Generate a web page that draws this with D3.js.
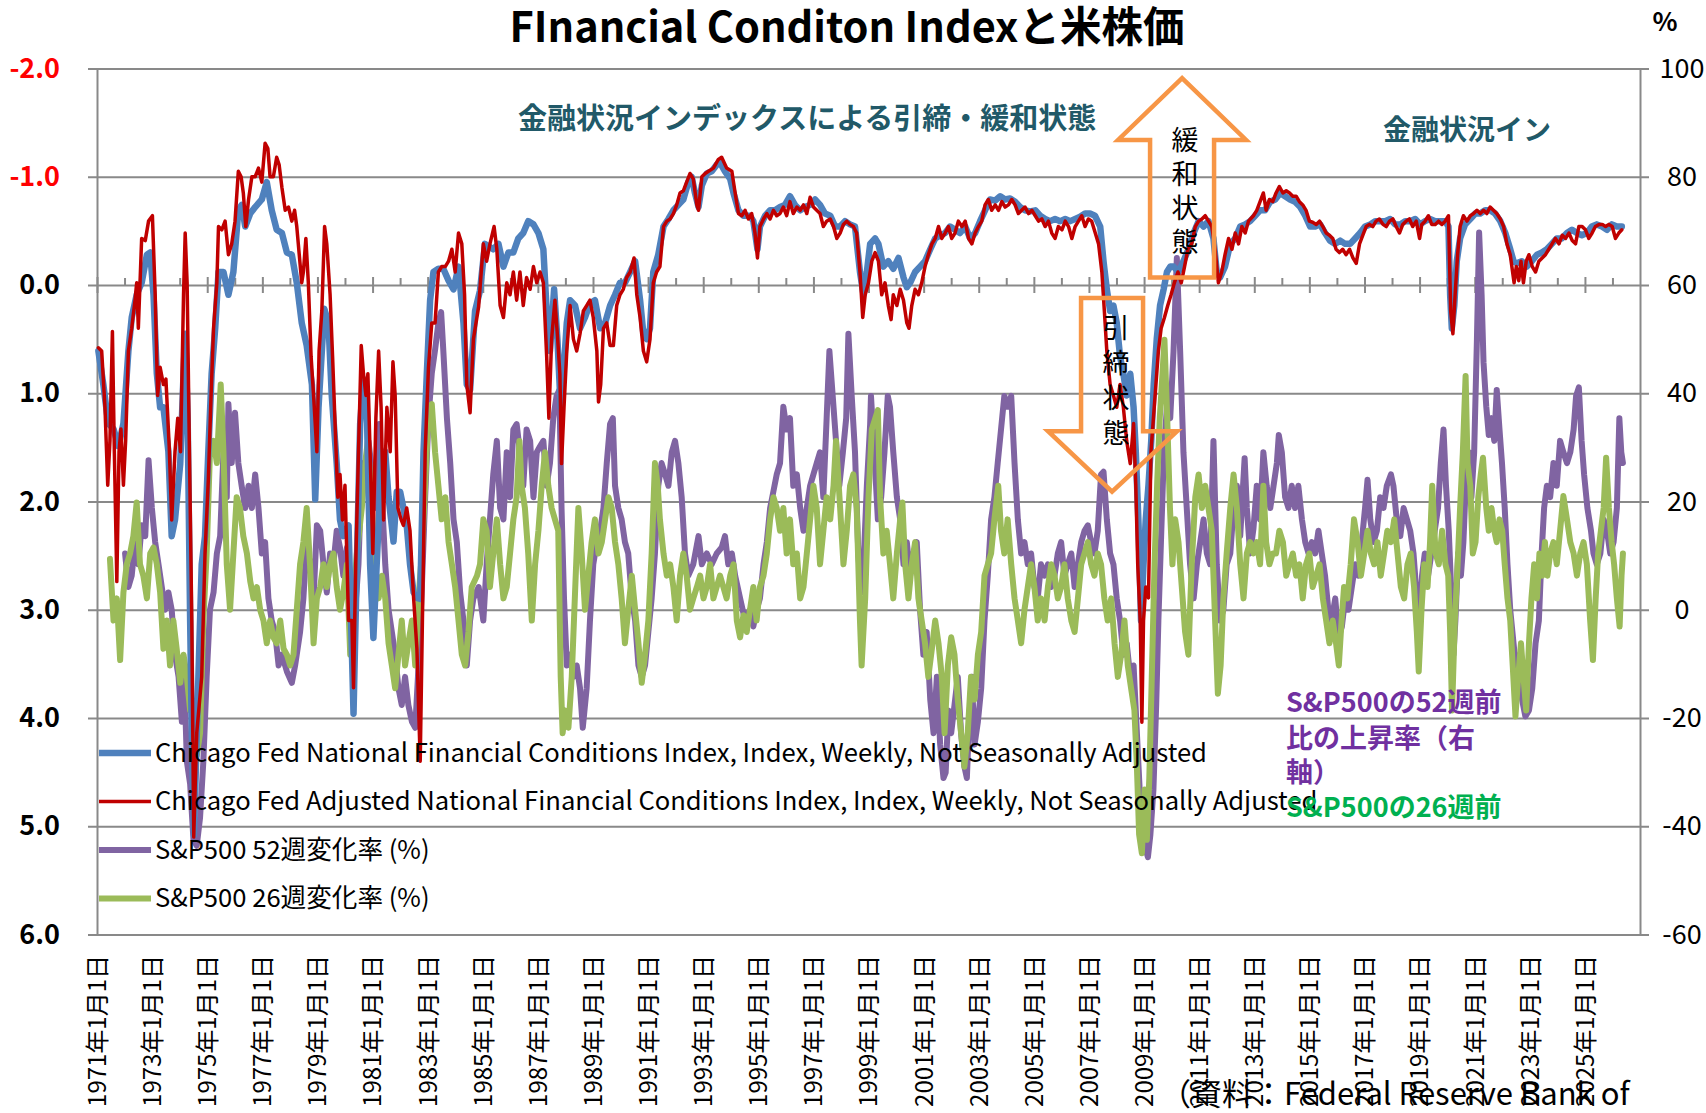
<!DOCTYPE html>
<html>
<head>
<meta charset="utf-8">
<script src="https://cdn.jsdelivr.net/npm/d3@7"></script>
<style>
  html, body { margin: 0; padding: 0; background: #fff; }
  svg { display: block; font-family: "Noto Sans CJK JP", "Noto Sans", sans-serif; }
</style>
</head>
<body>
<svg id="chart" width="1706" height="1113"></svg>
<script>
'use strict';

// ---- data (decimal year, value) ----
var nfci = [
  [1971.05,0.61],[1971.23,0.92],[1971.41,1.28],[1971.60,1.33],[1971.78,1.49],[1971.96,1.28],[1972.14,0.61],[1972.26,0.30],
  [1972.44,0.09],[1972.62,-0.02],[1972.81,-0.28],[1972.93,-0.30],[1973.05,0.09],[1973.17,0.82],[1973.29,1.13],[1973.41,1.13],
  [1973.59,1.54],[1973.71,2.32],[1973.83,2.17],[1974.02,1.65],[1974.14,0.82],[1974.20,0.45],[1974.29,1.23],[1974.38,3.10],
  [1974.44,4.14],[1974.52,5.08],[1974.68,3.62],[1974.80,2.58],[1974.92,2.32],[1975.04,1.54],[1975.16,0.82],[1975.29,0.40],
  [1975.41,-0.12],[1975.59,-0.12],[1975.77,0.09],[1975.95,-0.12],[1976.13,-0.69],[1976.25,-0.74],[1976.38,-0.54],[1976.56,-0.66],
  [1976.74,-0.72],[1976.98,-0.79],[1977.16,-0.95],[1977.34,-0.69],[1977.52,-0.51],[1977.71,-0.48],[1977.89,-0.30],[1978.07,-0.28],
  [1978.25,-0.02],[1978.43,0.35],[1978.61,0.56],[1978.80,0.92],[1978.92,1.98],[1979.04,1.13],[1979.25,0.22],[1979.40,0.35],
  [1979.52,1.02],[1979.70,1.65],[1979.82,2.17],[1979.94,2.32],[1980.13,2.22],[1980.31,3.96],[1980.43,2.58],[1980.55,1.28],
  [1980.67,0.87],[1980.79,1.13],[1980.91,2.58],[1981.03,3.26],[1981.15,2.58],[1981.34,1.54],[1981.46,1.54],[1981.58,1.96],
  [1981.76,2.37],[1981.88,1.91],[1982.00,1.91],[1982.12,2.06],[1982.24,2.22],[1982.36,2.58],[1982.49,2.84],[1982.61,2.89],
  [1982.73,2.90],[1982.85,1.54],[1982.97,0.82],[1983.09,0.14],[1983.21,-0.12],[1983.39,-0.15],[1983.57,-0.15],[1983.76,-0.04],
  [1983.94,0.04],[1984.12,-0.17],[1984.30,0.35],[1984.42,0.92],[1984.54,0.97],[1984.72,0.24],[1984.90,0.05],[1985.08,-0.38],
  [1985.38,-0.33],[1985.57,-0.38],[1985.75,-0.17],[1985.93,-0.30],[1986.11,-0.30],[1986.29,-0.43],[1986.47,-0.48],[1986.65,-0.59],
  [1986.84,-0.56],[1987.02,-0.48],[1987.20,-0.33],[1987.32,0.24],[1987.44,0.61],[1987.59,0.04],[1987.71,0.50],[1987.83,1.13],
  [1987.93,0.82],[1988.05,0.35],[1988.17,0.14],[1988.35,0.19],[1988.53,0.40],[1988.71,0.30],[1988.89,0.17],[1989.07,0.14],
  [1989.26,0.40],[1989.44,0.35],[1989.62,0.19],[1989.80,0.09],[1989.98,-0.02],[1990.16,-0.02],[1990.35,-0.12],[1990.53,-0.22],
  [1990.71,0.14],[1990.83,0.45],[1990.95,0.50],[1991.07,0.40],[1991.19,-0.12],[1991.37,-0.28],[1991.56,-0.54],[1991.74,-0.61],
  [1991.92,-0.69],[1992.10,-0.74],[1992.28,-0.79],[1992.46,-0.95],[1992.58,-1.00],[1992.70,-0.85],[1992.83,-0.72],[1992.95,-0.92],
  [1993.13,-1.03],[1993.31,-1.05],[1993.49,-1.11],[1993.61,-1.13],[1993.79,-1.05],[1993.98,-0.98],[1994.10,-0.85],[1994.28,-0.69],
  [1994.46,-0.64],[1994.70,-0.64],[1994.82,-0.59],[1994.97,-0.33],[1995.06,-0.54],[1995.25,-0.64],[1995.43,-0.69],[1995.61,-0.69],
  [1995.79,-0.72],[1995.97,-0.74],[1996.15,-0.82],[1996.33,-0.74],[1996.52,-0.69],[1996.70,-0.72],[1996.88,-0.74],[1997.06,-0.79],
  [1997.24,-0.74],[1997.42,-0.66],[1997.61,-0.64],[1997.79,-0.54],[1997.97,-0.54],[1998.15,-0.59],[1998.33,-0.56],[1998.51,-0.54],
  [1998.69,-0.12],[1998.82,0.09],[1998.94,-0.12],[1999.06,-0.38],[1999.24,-0.43],[1999.36,-0.38],[1999.54,-0.17],[1999.72,-0.22],
  [1999.90,-0.15],[2000.09,-0.25],[2000.27,-0.07],[2000.39,0.02],[2000.51,-0.02],[2000.69,-0.12],[2000.87,-0.17],[2001.05,-0.22],
  [2001.24,-0.33],[2001.42,-0.43],[2001.60,-0.46],[2001.78,-0.48],[2001.96,-0.54],[2002.14,-0.51],[2002.32,-0.48],[2002.51,-0.54],
  [2002.69,-0.43],[2002.87,-0.48],[2003.05,-0.59],[2003.23,-0.69],[2003.41,-0.79],[2003.60,-0.78],[2003.78,-0.82],[2003.96,-0.79],
  [2004.14,-0.80],[2004.32,-0.77],[2004.50,-0.72],[2004.68,-0.69],[2004.87,-0.68],[2005.05,-0.69],[2005.23,-0.64],[2005.41,-0.61],
  [2005.59,-0.59],[2005.77,-0.61],[2005.96,-0.59],[2006.14,-0.61],[2006.32,-0.59],[2006.50,-0.61],[2006.68,-0.63],[2006.86,-0.66],
  [2007.04,-0.66],[2007.22,-0.64],[2007.41,-0.54],[2007.53,-0.22],[2007.65,0.04],[2007.77,0.24],[2007.89,0.19],[2008.01,0.35],
  [2008.13,0.66],[2008.25,0.82],[2008.37,1.02],[2008.50,0.82],[2008.62,1.13],[2008.70,1.54],[2008.80,2.22],[2008.89,3.10],
  [2008.98,2.58],[2009.06,2.17],[2009.16,1.85],[2009.26,1.44],[2009.35,0.92],[2009.46,0.50],[2009.58,0.19],[2009.71,0.04],
  [2009.83,-0.12],[2009.95,-0.17],[2010.07,-0.17],[2010.25,-0.12],[2010.43,-0.22],[2010.61,-0.33],[2010.80,-0.48],[2010.98,-0.59],
  [2011.16,-0.54],[2011.34,-0.59],[2011.52,-0.43],[2011.64,-0.12],[2011.76,-0.07],[2011.94,-0.17],[2012.13,-0.38],[2012.31,-0.43],
  [2012.49,-0.54],[2012.67,-0.56],[2012.85,-0.59],[2013.03,-0.64],[2013.21,-0.69],[2013.39,-0.69],[2013.58,-0.77],[2013.76,-0.79],
  [2013.94,-0.85],[2014.12,-0.82],[2014.30,-0.79],[2014.48,-0.77],[2014.67,-0.72],[2014.85,-0.64],[2015.03,-0.54],[2015.21,-0.54],
  [2015.39,-0.56],[2015.57,-0.48],[2015.75,-0.41],[2015.94,-0.38],[2016.12,-0.41],[2016.30,-0.38],[2016.48,-0.38],[2016.66,-0.43],
  [2016.84,-0.48],[2017.02,-0.54],[2017.21,-0.56],[2017.39,-0.59],[2017.57,-0.59],[2017.75,-0.59],[2017.93,-0.61],[2018.11,-0.56],
  [2018.30,-0.56],[2018.48,-0.59],[2018.66,-0.59],[2018.84,-0.61],[2019.02,-0.56],[2019.20,-0.59],[2019.38,-0.61],[2019.57,-0.59],
  [2019.75,-0.59],[2019.93,-0.59],[2020.05,-0.54],[2020.11,0.09],[2020.17,0.40],[2020.26,0.19],[2020.35,-0.22],[2020.47,-0.43],
  [2020.65,-0.56],[2020.84,-0.61],[2021.02,-0.66],[2021.20,-0.66],[2021.38,-0.69],[2021.56,-0.69],[2021.74,-0.66],[2021.93,-0.59],
  [2022.11,-0.48],[2022.29,-0.33],[2022.41,-0.22],[2022.53,-0.20],[2022.71,-0.22],[2022.89,-0.17],[2023.07,-0.22],[2023.26,-0.28],
  [2023.44,-0.30],[2023.62,-0.33],[2023.80,-0.38],[2023.98,-0.43],[2024.16,-0.43],[2024.35,-0.48],[2024.53,-0.51],[2024.71,-0.48],
  [2024.89,-0.46],[2025.07,-0.48],[2025.25,-0.54],[2025.43,-0.56],[2025.62,-0.54],[2025.80,-0.51],[2025.98,-0.56],[2026.16,-0.54],
  [2026.34,-0.54]
];

var anfci = [
  [1971.05,0.58],[1971.17,0.61],[1971.29,1.13],[1971.39,1.85],[1971.47,1.44],[1971.56,0.43],[1971.63,1.54],[1971.72,2.74],
  [1971.80,1.54],[1971.87,1.33],[1971.96,1.85],[1972.04,1.44],[1972.14,0.61],[1972.26,0.40],[1972.38,0.14],[1972.44,-0.02],
  [1972.50,0.40],[1972.62,-0.43],[1972.75,-0.41],[1972.87,-0.59],[1973.01,-0.64],[1973.11,0.09],[1973.20,1.02],[1973.29,0.76],
  [1973.41,0.92],[1973.50,0.87],[1973.62,1.49],[1973.71,2.17],[1973.83,1.54],[1973.93,1.23],[1974.03,1.54],[1974.14,0.09],
  [1974.20,-0.48],[1974.27,-0.02],[1974.34,1.28],[1974.44,3.10],[1974.51,5.10],[1974.62,4.14],[1974.80,3.62],[1974.92,2.48],
  [1975.04,1.80],[1975.14,1.02],[1975.23,0.40],[1975.35,-0.02],[1975.41,-0.54],[1975.53,-0.51],[1975.65,-0.59],[1975.77,-0.28],
  [1975.89,-0.38],[1976.01,-0.59],[1976.13,-1.05],[1976.23,-1.00],[1976.31,-0.85],[1976.40,-0.54],[1976.50,-0.79],[1976.62,-1.00],
  [1976.74,-1.00],[1976.86,-1.08],[1976.98,-0.95],[1977.10,-1.31],[1977.20,-1.26],[1977.28,-1.00],[1977.40,-1.00],[1977.52,-1.18],
  [1977.61,-1.11],[1977.71,-0.90],[1977.83,-0.69],[1977.95,-0.72],[1978.07,-0.59],[1978.17,-0.69],[1978.25,-0.54],[1978.34,-0.28],
  [1978.43,-0.02],[1978.49,-0.12],[1978.58,-0.43],[1978.67,-0.02],[1978.77,0.66],[1978.86,1.02],[1978.98,1.54],[1979.06,0.61],
  [1979.16,0.24],[1979.26,-0.54],[1979.34,-0.38],[1979.46,0.09],[1979.55,0.66],[1979.64,1.28],[1979.74,1.96],[1979.82,1.75],
  [1979.91,2.17],[1980.00,1.85],[1980.13,3.10],[1980.25,3.10],[1980.31,3.72],[1980.39,2.58],[1980.49,1.54],[1980.59,0.56],
  [1980.67,0.82],[1980.76,1.02],[1980.83,0.82],[1980.91,1.54],[1981.01,2.48],[1981.12,1.23],[1981.22,0.61],[1981.31,1.13],
  [1981.40,2.17],[1981.52,1.13],[1981.64,1.54],[1981.74,0.71],[1981.82,1.02],[1981.92,2.06],[1982.04,2.17],[1982.12,2.22],
  [1982.24,2.06],[1982.36,2.27],[1982.49,2.89],[1982.61,3.36],[1982.73,4.40],[1982.81,3.10],[1982.91,1.54],[1983.03,0.76],
  [1983.15,0.35],[1983.27,0.35],[1983.39,-0.12],[1983.51,-0.17],[1983.64,-0.17],[1983.76,-0.22],[1983.88,-0.33],[1984.00,-0.12],
  [1984.12,-0.48],[1984.24,-0.38],[1984.34,0.09],[1984.42,0.92],[1984.54,1.18],[1984.66,0.50],[1984.85,0.20],[1985.02,-0.38],
  [1985.14,-0.22],[1985.26,-0.38],[1985.41,-0.54],[1985.51,-0.33],[1985.63,0.19],[1985.75,0.30],[1985.87,-0.02],[1985.99,0.09],
  [1986.11,-0.12],[1986.23,0.14],[1986.35,-0.12],[1986.47,0.19],[1986.59,-0.07],[1986.72,0.04],[1986.84,-0.17],[1986.96,-0.02],
  [1987.08,-0.12],[1987.20,-0.02],[1987.32,0.66],[1987.40,1.23],[1987.50,0.50],[1987.62,0.14],[1987.72,0.50],[1987.80,0.82],
  [1987.86,1.65],[1987.95,1.13],[1988.05,0.61],[1988.17,0.19],[1988.29,0.50],[1988.41,0.61],[1988.53,0.45],[1988.65,0.24],
  [1988.77,0.19],[1988.89,0.14],[1989.01,0.30],[1989.14,0.61],[1989.20,1.08],[1989.28,0.92],[1989.38,0.40],[1989.50,0.35],
  [1989.62,0.56],[1989.74,0.56],[1989.86,0.19],[1989.98,0.09],[1990.10,0.04],[1990.22,-0.07],[1990.35,-0.12],[1990.49,-0.25],
  [1990.59,0.09],[1990.71,0.30],[1990.83,0.61],[1990.95,0.71],[1991.07,0.50],[1991.19,-0.02],[1991.31,-0.12],[1991.43,-0.17],
  [1991.56,-0.54],[1991.68,-0.59],[1991.80,-0.61],[1991.92,-0.66],[1992.04,-0.74],[1992.16,-0.85],[1992.28,-0.87],[1992.40,-0.95],
  [1992.52,-1.03],[1992.64,-0.98],[1992.77,-0.74],[1992.83,-0.69],[1992.95,-1.00],[1993.07,-1.03],[1993.19,-1.05],[1993.37,-1.08],
  [1993.55,-1.16],[1993.67,-1.18],[1993.85,-1.08],[1994.04,-1.05],[1994.16,-0.85],[1994.28,-0.66],[1994.40,-0.64],[1994.52,-0.69],
  [1994.64,-0.61],[1994.76,-0.66],[1994.88,-0.48],[1994.97,-0.25],[1995.06,-0.54],[1995.19,-0.61],[1995.31,-0.66],[1995.43,-0.61],
  [1995.55,-0.69],[1995.67,-0.64],[1995.79,-0.66],[1995.91,-0.72],[1996.03,-0.64],[1996.15,-0.77],[1996.27,-0.66],[1996.40,-0.72],
  [1996.52,-0.69],[1996.64,-0.74],[1996.76,-0.66],[1996.88,-0.81],[1997.00,-0.72],[1997.12,-0.69],[1997.24,-0.66],[1997.36,-0.54],
  [1997.48,-0.59],[1997.61,-0.61],[1997.73,-0.54],[1997.85,-0.43],[1997.97,-0.48],[1998.09,-0.56],[1998.21,-0.59],[1998.33,-0.56],
  [1998.45,-0.54],[1998.57,-0.48],[1998.69,-0.12],[1998.79,0.30],[1998.88,0.09],[1999.00,-0.02],[1999.12,-0.22],[1999.24,-0.30],
  [1999.36,-0.22],[1999.48,0.09],[1999.60,-0.02],[1999.72,0.19],[1999.82,0.32],[1999.90,0.09],[2000.03,0.19],[2000.15,0.04],
  [2000.27,0.14],[2000.39,0.35],[2000.47,0.40],[2000.57,0.19],[2000.69,0.04],[2000.81,0.09],[2000.93,-0.02],[2001.05,-0.17],
  [2001.17,-0.28],[2001.30,-0.38],[2001.42,-0.43],[2001.54,-0.54],[2001.66,-0.43],[2001.78,-0.48],[2001.90,-0.54],[2002.02,-0.43],
  [2002.14,-0.48],[2002.26,-0.59],[2002.39,-0.54],[2002.51,-0.59],[2002.63,-0.43],[2002.75,-0.38],[2002.87,-0.48],[2002.99,-0.54],
  [2003.11,-0.59],[2003.23,-0.74],[2003.35,-0.79],[2003.47,-0.69],[2003.60,-0.74],[2003.72,-0.69],[2003.84,-0.77],[2003.96,-0.72],
  [2004.08,-0.74],[2004.20,-0.79],[2004.32,-0.74],[2004.44,-0.66],[2004.56,-0.69],[2004.68,-0.72],[2004.81,-0.66],[2004.93,-0.69],
  [2005.05,-0.64],[2005.17,-0.59],[2005.29,-0.61],[2005.41,-0.54],[2005.53,-0.59],[2005.65,-0.48],[2005.77,-0.43],[2005.89,-0.54],
  [2006.02,-0.51],[2006.14,-0.59],[2006.26,-0.54],[2006.38,-0.43],[2006.50,-0.54],[2006.62,-0.59],[2006.74,-0.64],[2006.86,-0.54],
  [2006.98,-0.61],[2007.10,-0.59],[2007.23,-0.48],[2007.35,-0.38],[2007.47,-0.12],[2007.56,0.24],[2007.65,0.61],[2007.77,0.92],
  [2007.89,1.02],[2008.01,1.13],[2008.13,0.92],[2008.25,1.13],[2008.37,1.44],[2008.50,1.65],[2008.62,1.28],[2008.70,1.85],
  [2008.77,2.58],[2008.86,3.10],[2008.92,4.04],[2008.98,3.10],[2009.06,2.79],[2009.16,2.89],[2009.25,1.54],[2009.34,1.23],
  [2009.43,0.92],[2009.52,0.61],[2009.62,0.40],[2009.74,0.30],[2009.86,0.19],[2009.98,0.09],[2010.10,-0.02],[2010.23,-0.12],
  [2010.35,-0.02],[2010.47,-0.17],[2010.59,-0.33],[2010.73,-0.38],[2010.86,-0.54],[2010.98,-0.59],[2011.10,-0.61],[2011.22,-0.64],
  [2011.34,-0.59],[2011.46,-0.54],[2011.58,-0.33],[2011.70,-0.02],[2011.82,-0.12],[2011.94,-0.28],[2012.07,-0.43],[2012.19,-0.33],
  [2012.31,-0.48],[2012.43,-0.38],[2012.55,-0.54],[2012.67,-0.48],[2012.79,-0.59],[2012.97,-0.64],[2013.09,-0.69],[2013.21,-0.77],
  [2013.33,-0.85],[2013.43,-0.69],[2013.55,-0.79],[2013.67,-0.77],[2013.79,-0.85],[2013.91,-0.91],[2014.04,-0.85],[2014.16,-0.87],
  [2014.28,-0.85],[2014.40,-0.82],[2014.52,-0.82],[2014.64,-0.77],[2014.76,-0.74],[2014.88,-0.69],[2015.00,-0.59],[2015.12,-0.58],
  [2015.25,-0.56],[2015.37,-0.59],[2015.49,-0.54],[2015.61,-0.48],[2015.73,-0.46],[2015.85,-0.43],[2015.97,-0.33],[2016.09,-0.30],
  [2016.21,-0.33],[2016.33,-0.28],[2016.46,-0.33],[2016.58,-0.25],[2016.70,-0.20],[2016.82,-0.38],[2016.94,-0.46],[2017.06,-0.54],
  [2017.18,-0.56],[2017.30,-0.54],[2017.42,-0.59],[2017.54,-0.61],[2017.67,-0.56],[2017.79,-0.54],[2017.91,-0.59],[2018.03,-0.61],
  [2018.15,-0.54],[2018.27,-0.48],[2018.39,-0.56],[2018.51,-0.59],[2018.63,-0.61],[2018.75,-0.54],[2018.88,-0.59],[2019.00,-0.43],
  [2019.08,-0.56],[2019.20,-0.59],[2019.32,-0.64],[2019.44,-0.56],[2019.57,-0.56],[2019.69,-0.59],[2019.81,-0.56],[2019.93,-0.59],
  [2020.05,-0.64],[2020.13,0.24],[2020.21,0.45],[2020.29,0.09],[2020.38,-0.28],[2020.47,-0.54],[2020.59,-0.64],[2020.72,-0.59],
  [2020.84,-0.64],[2020.96,-0.66],[2021.08,-0.69],[2021.20,-0.66],[2021.32,-0.69],[2021.44,-0.66],[2021.56,-0.72],[2021.68,-0.69],
  [2021.80,-0.66],[2021.93,-0.61],[2022.05,-0.54],[2022.17,-0.38],[2022.29,-0.28],[2022.43,-0.02],[2022.51,-0.17],[2022.60,-0.04],
  [2022.68,-0.22],[2022.77,-0.02],[2022.87,-0.22],[2022.97,-0.28],[2023.09,-0.17],[2023.21,-0.12],[2023.33,-0.22],[2023.45,-0.25],
  [2023.57,-0.28],[2023.69,-0.33],[2023.81,-0.38],[2023.93,-0.43],[2024.06,-0.38],[2024.18,-0.46],[2024.30,-0.43],[2024.42,-0.48],
  [2024.54,-0.41],[2024.66,-0.38],[2024.78,-0.54],[2024.90,-0.54],[2025.02,-0.51],[2025.14,-0.43],[2025.26,-0.48],[2025.38,-0.54],
  [2025.51,-0.56],[2025.63,-0.56],[2025.75,-0.54],[2025.87,-0.56],[2025.99,-0.54],[2026.11,-0.43],[2026.23,-0.48],[2026.34,-0.51]
];

var sp52 = [
  [1972.02,10.4],[1972.14,4.2],[1972.26,6.3],[1972.38,12.5],[1972.50,8.4],[1972.62,15.6],[1972.75,13.6],[1972.87,27.6],
  [1972.99,18.8],[1973.11,12.5],[1973.23,8.4],[1973.35,4.2],[1973.47,0],[1973.59,3.2],[1973.71,0],[1973.83,-8.3],
  [1973.96,-12.4],[1974.08,-20.7],[1974.17,-12.4],[1974.26,-28],[1974.38,-32.2],[1974.50,-42.5],[1974.62,-43.6],[1974.74,-38.4],
  [1974.86,-28],[1974.98,-12.4],[1975.10,0],[1975.23,3.2],[1975.35,10.4],[1975.47,13.6],[1975.59,29.1],[1975.71,20.8],
  [1975.77,38],[1975.89,27.1],[1976.01,36.4],[1976.13,27.1],[1976.25,22.9],[1976.38,18.8],[1976.50,22.9],[1976.62,18.8],
  [1976.74,25],[1976.86,18.8],[1976.98,10.4],[1977.10,12.5],[1977.22,2.1],[1977.34,-2],[1977.46,-4.1],[1977.59,-10.3],
  [1977.71,-8.3],[1977.89,-11.4],[1978.07,-13.5],[1978.19,-10.3],[1978.37,-4.1],[1978.49,2.1],[1978.61,12.5],[1978.73,8.4],
  [1978.86,2.1],[1978.98,15.6],[1979.10,14.6],[1979.22,8.4],[1979.34,3.2],[1979.46,10.4],[1979.58,8.4],[1979.70,14.6],
  [1979.82,11.5],[1979.94,6.3],[1980.07,11.5],[1980.19,2.1],[1980.31,-4.1],[1980.49,8.4],[1980.61,27.1],[1980.73,22.9],
  [1980.85,31.2],[1980.97,26],[1981.09,18.8],[1981.24,34.3],[1981.34,20.8],[1981.46,8.4],[1981.58,0],[1981.70,-4.1],
  [1981.82,-8.3],[1981.94,-14.5],[1982.06,-17.6],[1982.18,-12.4],[1982.30,-17.6],[1982.43,-20.7],[1982.55,-21.8],[1982.67,-10.3],
  [1982.79,4.2],[1982.91,20.8],[1983.03,35.4],[1983.15,43.7],[1983.27,48],[1983.39,53],[1983.49,55],[1983.57,47.8],
  [1983.70,35.4],[1983.82,27.1],[1983.94,16.7],[1984.06,12.5],[1984.18,3.2],[1984.30,-2],[1984.42,-10.3],[1984.54,-2],
  [1984.66,2.1],[1984.85,4.2],[1985.02,-2],[1985.14,8.4],[1985.26,16.7],[1985.38,25],[1985.51,31.2],[1985.63,18.8],
  [1985.75,16.7],[1985.87,29.1],[1985.99,20.8],[1986.11,33.3],[1986.23,34.3],[1986.35,29.1],[1986.47,22.9],[1986.59,33.3],
  [1986.72,31.2],[1986.84,20.8],[1986.96,29.1],[1987.08,30.2],[1987.20,31.2],[1987.32,22.9],[1987.44,27.1],[1987.56,35.4],
  [1987.68,39.5],[1987.78,40.6],[1987.86,18.8],[1987.95,2.1],[1988.05,-10.3],[1988.17,-8.3],[1988.29,-12.4],[1988.41,-10.3],
  [1988.53,-14.5],[1988.63,-21.8],[1988.77,-14.5],[1988.89,-2],[1989.01,8.4],[1989.14,12.5],[1989.26,14.6],[1989.38,18.8],
  [1989.50,27.1],[1989.62,34.3],[1989.72,35.4],[1989.80,22.9],[1989.92,18.8],[1990.04,16.7],[1990.16,12.5],[1990.28,10.4],
  [1990.41,2.1],[1990.53,-2],[1990.65,-10.3],[1990.77,-12.4],[1990.89,-10.3],[1991.01,-4.1],[1991.13,2.1],[1991.25,10.4],
  [1991.37,22.9],[1991.49,27.1],[1991.62,25],[1991.74,22.9],[1991.86,29.1],[1991.98,31.2],[1992.10,27.1],[1992.22,20.8],
  [1992.34,10.4],[1992.46,6.3],[1992.64,8.4],[1992.83,13.6],[1992.95,8.4],[1993.13,10.4],[1993.31,8.4],[1993.49,10.4],
  [1993.67,11.5],[1993.79,13.6],[1993.91,8.4],[1994.04,10.4],[1994.16,6.3],[1994.34,2.1],[1994.52,-2],[1994.70,0],
  [1994.82,-3.1],[1994.94,0],[1995.06,2.1],[1995.19,8.4],[1995.31,12.5],[1995.43,18.8],[1995.55,21.9],[1995.67,25],
  [1995.79,27.1],[1995.91,37.5],[1996.03,33.3],[1996.15,35.4],[1996.27,22.9],[1996.40,25],[1996.52,18.8],[1996.64,14.6],
  [1996.76,18.8],[1996.88,22.9],[1997.00,25],[1997.12,27.1],[1997.24,29.1],[1997.36,20.8],[1997.48,35.4],[1997.58,47.8],
  [1997.70,39.5],[1997.82,31.2],[1997.94,22.9],[1998.07,29.1],[1998.19,35.4],[1998.27,51],[1998.39,39.5],[1998.51,29.1],
  [1998.63,10.4],[1998.73,3.2],[1998.82,8.4],[1998.94,22.9],[1999.06,34.3],[1999.09,39.5],[1999.21,29.1],[1999.34,16.7],
  [1999.46,20.8],[1999.58,29.1],[1999.70,39.5],[1999.78,37.5],[1999.90,29.1],[2000.03,20.8],[2000.15,16.7],[2000.27,8.4],
  [2000.39,12.5],[2000.51,6.3],[2000.63,10.4],[2000.75,12.5],[2000.87,0],[2000.99,-8.3],[2001.11,-4.1],[2001.24,-16.6],
  [2001.36,-22.8],[2001.48,-12.4],[2001.60,-24.9],[2001.72,-31.1],[2001.80,-30.1],[2001.90,-18.6],[2002.00,-22.8],[2002.12,-17.6],
  [2002.24,-12.4],[2002.36,-22.8],[2002.48,-29],[2002.57,-31.1],[2002.65,-20.7],[2002.75,-12.4],[2002.85,-24.9],[2002.97,-20.7],
  [2003.09,-14.5],[2003.21,-2],[2003.33,6.3],[2003.45,16.7],[2003.57,20.8],[2003.69,27.1],[2003.81,33.3],[2003.93,39.5],
  [2004.05,37.5],[2004.18,39.5],[2004.30,27.1],[2004.42,16.7],[2004.54,10.4],[2004.66,12.5],[2004.78,8.4],[2004.90,10.4],
  [2005.02,4.2],[2005.14,2.1],[2005.26,8.4],[2005.39,6.3],[2005.51,8.4],[2005.63,4.2],[2005.75,6.3],[2005.87,10.4],
  [2005.99,12.5],[2006.11,6.3],[2006.23,8.4],[2006.36,10.4],[2006.48,4.2],[2006.60,8.4],[2006.72,12.5],[2006.84,14.6],
  [2006.96,15.6],[2007.08,12.5],[2007.20,10.4],[2007.32,14.6],[2007.44,25],[2007.53,25.5],[2007.65,16.7],[2007.77,10.4],
  [2007.89,8.4],[2008.01,2.1],[2008.13,-2],[2008.25,-8.3],[2008.37,-6.2],[2008.50,-12.4],[2008.62,-10.3],[2008.74,-22.8],
  [2008.82,-31.1],[2008.92,-41.5],[2009.02,-43.6],[2009.14,-45.7],[2009.23,-41.5],[2009.34,-33.2],[2009.44,-17.6],[2009.52,-2],
  [2009.62,13.6],[2009.72,29.1],[2009.83,37.5],[2009.95,35.4],[2010.07,47.8],[2010.19,65],[2010.31,47.8],[2010.43,29.1],
  [2010.55,18.8],[2010.67,8.4],[2010.80,2.1],[2010.92,8.4],[2011.04,12.5],[2011.16,16.7],[2011.28,10.4],[2011.40,8.4],
  [2011.52,31.2],[2011.64,8.4],[2011.76,-2],[2011.88,0],[2012.00,8.4],[2012.13,10.4],[2012.25,18.8],[2012.37,22.9],
  [2012.49,13.6],[2012.65,28],[2012.73,18.8],[2012.85,10.4],[2012.97,15],[2013.09,22.9],[2013.21,16.7],[2013.33,29.1],
  [2013.45,22.9],[2013.58,18.8],[2013.70,22.9],[2013.82,27.1],[2013.89,32.3],[2014.00,29.1],[2014.12,20.8],[2014.24,18.8],
  [2014.36,22.9],[2014.48,18.8],[2014.60,22.9],[2014.73,16.7],[2014.85,12.5],[2014.97,10.4],[2015.09,12.5],[2015.21,10.4],
  [2015.33,14.6],[2015.45,10.4],[2015.57,6.3],[2015.69,0],[2015.81,-2],[2015.94,2.1],[2016.06,-5.1],[2016.18,-3.1],
  [2016.30,2.1],[2016.42,0],[2016.54,4.2],[2016.66,8.4],[2016.78,6.3],[2016.90,12.5],[2017.02,18.8],[2017.11,24],
  [2017.21,16.7],[2017.33,12.5],[2017.45,14.6],[2017.57,20.8],[2017.69,18.8],[2017.81,22.9],[2017.96,25],[2018.05,22.9],
  [2018.17,16.7],[2018.30,13.6],[2018.42,18.8],[2018.54,16.7],[2018.66,14.6],[2018.78,10.4],[2018.90,2.1],[2019.00,-2],
  [2019.09,6.3],[2019.19,10.4],[2019.31,6.3],[2019.43,10.4],[2019.55,14.6],[2019.67,18.8],[2019.77,27.1],[2019.87,33.3],
  [2019.96,22.9],[2020.06,14.6],[2020.16,2.1],[2020.23,-8.3],[2020.30,-2],[2020.40,10.4],[2020.50,6.3],[2020.59,12.5],
  [2020.69,25],[2020.79,29.1],[2020.88,20.8],[2020.98,29.1],[2021.08,49.9],[2021.16,69.7],[2021.25,58.2],[2021.32,45.7],
  [2021.42,37.5],[2021.51,32.3],[2021.61,35.4],[2021.71,31.2],[2021.80,40.6],[2021.90,33.3],[2021.99,27.1],[2022.09,18.8],
  [2022.19,8.4],[2022.29,0],[2022.41,-6.2],[2022.53,-12.4],[2022.63,-8.3],[2022.72,-16.6],[2022.84,-19.7],[2022.97,-18.6],
  [2023.09,-14.5],[2023.21,-6.2],[2023.33,-2],[2023.43,10.4],[2023.52,18.8],[2023.62,22.9],[2023.74,20.8],[2023.86,27.1],
  [2023.98,22.9],[2024.10,31.2],[2024.22,29.1],[2024.35,27.1],[2024.47,29.1],[2024.59,33.3],[2024.68,39.5],[2024.78,41.1],
  [2024.88,31.2],[2024.97,25],[2025.09,18.8],[2025.22,14.6],[2025.31,10.4],[2025.43,8.4],[2025.56,10.4],[2025.68,16.7],
  [2025.80,14.6],[2025.92,10.4],[2026.04,12.5],[2026.16,18.8],[2026.25,35.4],[2026.32,29.1],[2026.38,27.1]
];

var sp26 = [
  [1971.47,9.4],[1971.60,-2],[1971.72,2.1],[1971.84,-9.3],[1971.96,3.2],[1972.08,8.4],[1972.20,10.4],[1972.32,13.6],
  [1972.44,19.8],[1972.56,8.4],[1972.68,6.3],[1972.81,2.1],[1972.93,10.4],[1973.05,11.5],[1973.17,8.4],[1973.29,3.2],
  [1973.41,-7.2],[1973.53,-2],[1973.65,-10.3],[1973.77,-2],[1973.89,-7.2],[1974.02,-13.5],[1974.14,-8.3],[1974.26,-12.4],
  [1974.38,-18.6],[1974.50,-18.6],[1974.62,-27],[1974.74,-22.8],[1974.86,-2],[1974.98,10.4],[1975.10,29.1],[1975.23,31.2],
  [1975.35,27.1],[1975.49,41.6],[1975.59,29.1],[1975.71,8.4],[1975.83,0],[1975.95,10.4],[1976.07,20.8],[1976.19,18.8],
  [1976.31,13.6],[1976.44,10.4],[1976.56,5.3],[1976.68,2.1],[1976.80,4.2],[1976.92,0],[1977.04,-2],[1977.16,-6.2],
  [1977.28,-2],[1977.40,-5.1],[1977.52,-6.2],[1977.65,-2],[1977.77,-7.2],[1977.89,-8.3],[1978.01,-10.3],[1978.13,-8.3],
  [1978.25,0],[1978.37,8.4],[1978.49,12.5],[1978.61,18.8],[1978.73,8.4],[1978.86,-6.2],[1978.98,2.1],[1979.10,4.2],
  [1979.22,8.4],[1979.34,4.2],[1979.46,8.4],[1979.58,10.4],[1979.70,4.2],[1979.82,0],[1979.94,3.2],[1980.07,8.4],
  [1980.19,-8.3],[1980.31,2.1],[1980.43,10.4],[1980.61,18.8],[1980.73,27.1],[1980.83,31.2],[1980.97,18.8],[1981.09,8.4],
  [1981.22,2.1],[1981.34,6.3],[1981.46,2.1],[1981.58,-6.2],[1981.70,-10.3],[1981.82,-14.5],[1981.94,-8.3],[1982.06,-2],
  [1982.18,-10.3],[1982.30,-6.2],[1982.43,-2],[1982.55,-10.3],[1982.67,2.1],[1982.79,10.4],[1982.91,22.9],[1983.03,37],
  [1983.15,38],[1983.27,29.1],[1983.39,22.9],[1983.51,16.7],[1983.64,20.8],[1983.76,12.5],[1983.88,8.4],[1984.00,4.2],
  [1984.12,-2],[1984.24,-8.3],[1984.36,-10.3],[1984.48,-4.1],[1984.60,4.2],[1984.79,6.3],[1984.90,8.4],[1985.02,16.7],
  [1985.14,14.6],[1985.26,4.2],[1985.38,10.4],[1985.51,16.7],[1985.63,8.4],[1985.75,2.1],[1985.87,4.2],[1985.99,10.4],
  [1986.11,16.7],[1986.23,20.8],[1986.33,31.2],[1986.41,22.9],[1986.53,18.8],[1986.65,10.4],[1986.78,-2],[1986.90,8.4],
  [1987.02,14.6],[1987.14,22.9],[1987.26,29.1],[1987.38,22.9],[1987.50,18.8],[1987.62,16.7],[1987.74,14.6],[1987.83,-12.4],
  [1987.90,-22.8],[1987.99,-18.6],[1988.11,-21.8],[1988.23,-12.4],[1988.35,3.2],[1988.47,18.8],[1988.59,10.4],[1988.71,0],
  [1988.83,6.3],[1988.95,12.5],[1989.07,16.7],[1989.20,10.4],[1989.32,12.5],[1989.44,16.7],[1989.56,20.8],[1989.68,18.8],
  [1989.80,12.5],[1989.92,8.4],[1990.04,2.1],[1990.16,-6.2],[1990.28,0],[1990.41,6.3],[1990.53,0],[1990.65,-6.2],
  [1990.77,-13.5],[1990.89,-8.3],[1991.01,-2],[1991.13,10.4],[1991.25,27.1],[1991.35,22.9],[1991.43,16.7],[1991.56,10.4],
  [1991.68,6.3],[1991.80,8.4],[1991.92,4.2],[1992.04,-2],[1992.16,6.3],[1992.28,10.4],[1992.40,6.3],[1992.52,0],
  [1992.64,2.1],[1992.77,4.2],[1992.89,6.3],[1993.01,2.1],[1993.13,4.2],[1993.25,8.4],[1993.37,2.1],[1993.49,4.2],
  [1993.61,6.3],[1993.73,4.2],[1993.85,2.1],[1993.98,6.3],[1994.10,8.4],[1994.22,-2],[1994.34,-5.1],[1994.46,-1],
  [1994.58,-4.1],[1994.70,0],[1994.82,4.2],[1994.94,-2],[1995.06,4.2],[1995.19,6.3],[1995.31,10.4],[1995.43,16.7],
  [1995.55,20.8],[1995.67,18.8],[1995.79,14.6],[1995.91,18.8],[1996.03,10.4],[1996.15,16.7],[1996.27,8.4],[1996.40,10.4],
  [1996.52,2.1],[1996.64,4.2],[1996.76,10.4],[1996.88,16.7],[1997.00,22.9],[1997.12,18.8],[1997.24,8.4],[1997.36,14.6],
  [1997.48,20.8],[1997.61,16.7],[1997.73,22.9],[1997.82,31.2],[1997.97,18.8],[1998.09,8.4],[1998.21,14.6],[1998.33,22.9],
  [1998.45,25],[1998.57,18.8],[1998.69,-2],[1998.75,-10.3],[1998.88,2.1],[1999.00,20.8],[1999.12,33.3],[1999.34,36.9],
  [1999.42,20.8],[1999.54,10.4],[1999.66,14.6],[1999.78,8.4],[1999.90,2.1],[2000.03,10.4],[2000.15,16.7],[2000.23,19.8],
  [2000.33,8.4],[2000.45,2.1],[2000.57,8.4],[2000.69,12.5],[2000.81,2.1],[2000.93,-2],[2001.05,-6.2],[2001.17,-12.4],
  [2001.30,-7.2],[2001.42,-2],[2001.54,-6.2],[2001.66,-12.4],[2001.76,-22.8],[2001.88,-10.3],[2002.00,-5.1],[2002.12,-8.3],
  [2002.24,-16.6],[2002.36,-22.8],[2002.48,-29],[2002.60,-22.8],[2002.72,-12.4],[2002.85,-16.6],[2002.97,-8.3],[2003.09,-4.1],
  [2003.21,6.3],[2003.33,8.4],[2003.45,10.4],[2003.57,16.7],[2003.71,22.9],[2003.81,14.6],[2003.93,10.4],[2004.05,16.7],
  [2004.18,8.4],[2004.30,2.1],[2004.42,-2],[2004.54,-6.2],[2004.66,0],[2004.78,4.2],[2004.90,8.4],[2005.02,4.2],
  [2005.14,-2],[2005.26,2.1],[2005.39,-2],[2005.51,4.2],[2005.63,8.4],[2005.75,6.3],[2005.87,2.1],[2005.99,4.2],
  [2006.11,8.4],[2006.23,2.1],[2006.36,-2],[2006.48,-4.1],[2006.60,2.1],[2006.72,8.4],[2006.84,10.4],[2006.96,12.5],
  [2007.08,8.4],[2007.20,6.3],[2007.32,10.4],[2007.44,8.4],[2007.56,2.1],[2007.68,-2],[2007.81,2.1],[2007.93,-6.2],
  [2008.05,-12.4],[2008.17,-8.3],[2008.29,-2],[2008.41,-10.3],[2008.53,-14.5],[2008.65,-18.6],[2008.74,-29],[2008.82,-41.5],
  [2008.92,-45],[2009.02,-33.2],[2009.10,-42.5],[2009.19,-31.1],[2009.28,-12.4],[2009.38,8.4],[2009.48,24],[2009.57,35.4],
  [2009.67,43.7],[2009.74,49.9],[2009.84,35.4],[2009.94,18.8],[2010.03,8.4],[2010.13,16.7],[2010.25,12.5],[2010.37,4.2],
  [2010.49,-4.1],[2010.61,-8.3],[2010.73,8.4],[2010.86,20.8],[2010.98,25],[2011.10,18.8],[2011.22,22.9],[2011.34,18.8],
  [2011.46,14.6],[2011.58,-2],[2011.68,-15.5],[2011.78,-10.3],[2011.88,2.1],[2012.00,10.4],[2012.13,18.8],[2012.25,25],
  [2012.37,18.8],[2012.49,8.4],[2012.61,2.1],[2012.73,10.4],[2012.85,12.5],[2012.97,10.4],[2013.09,12.5],[2013.21,8.4],
  [2013.33,22.9],[2013.43,12.5],[2013.55,8.4],[2013.67,10.4],[2013.79,10.4],[2013.91,14.6],[2014.04,12.5],[2014.16,6.3],
  [2014.28,8.4],[2014.40,10.4],[2014.52,6.3],[2014.64,8.4],[2014.76,2.1],[2014.88,8.4],[2015.00,10.4],[2015.12,4.2],
  [2015.25,6.3],[2015.37,8.4],[2015.49,2.1],[2015.61,-2],[2015.73,-6.2],[2015.85,-2],[2015.97,-6.2],[2016.07,-10.3],
  [2016.17,-2],[2016.26,4.2],[2016.38,2.1],[2016.50,8.4],[2016.62,16.7],[2016.75,12.5],[2016.87,6.3],[2016.99,10.4],
  [2017.11,14.6],[2017.23,10.4],[2017.35,8.4],[2017.47,12.5],[2017.59,6.3],[2017.71,10.4],[2017.83,14.6],[2017.96,12.5],
  [2018.08,16.7],[2018.20,10.4],[2018.32,4.2],[2018.44,2.1],[2018.56,8.4],[2018.68,10.4],[2018.80,4.2],[2018.90,-4.1],
  [2018.97,-11.4],[2019.07,0],[2019.17,8.4],[2019.29,4.2],[2019.38,12.5],[2019.46,22.9],[2019.58,10.4],[2019.70,8.4],
  [2019.82,14.6],[2019.94,8.4],[2020.04,6.3],[2020.11,-4.1],[2020.18,-18.6],[2020.28,-2],[2020.38,8.4],[2020.47,18.8],
  [2020.57,29.1],[2020.67,43.2],[2020.74,27.1],[2020.84,22.9],[2020.93,10.4],[2021.03,12.5],[2021.13,20.8],[2021.22,25],
  [2021.30,28.1],[2021.42,18.8],[2021.51,14.6],[2021.61,18.8],[2021.71,14.6],[2021.80,12.5],[2021.90,16.7],[2022.00,14.6],
  [2022.09,8.4],[2022.19,2.1],[2022.29,-2],[2022.38,-10.3],[2022.48,-19.7],[2022.58,-12.4],[2022.68,-6.2],[2022.77,-12.4],
  [2022.87,-18.6],[2022.97,-6.2],[2023.06,2.1],[2023.16,8.4],[2023.26,2.1],[2023.35,10.4],[2023.45,6.3],[2023.55,12.5],
  [2023.64,6.3],[2023.74,10.4],[2023.86,12.5],[2023.98,8.4],[2024.10,14.6],[2024.22,21],[2024.35,16.7],[2024.47,12.5],
  [2024.59,10.4],[2024.71,6.3],[2024.83,10.4],[2024.95,12.5],[2025.07,8.4],[2025.19,-2],[2025.29,-9.3],[2025.39,2.1],
  [2025.48,10.4],[2025.58,14.6],[2025.68,18.8],[2025.77,28.1],[2025.87,18.8],[2025.97,12.5],[2026.06,8.4],[2026.16,2.1],
  [2026.26,-3.1],[2026.33,6.3],[2026.38,10.4]
];

// axis ticks and labels
var leftTicks = [-2, -1, 0, 1, 2, 3, 4, 5, 6];
var rightTicks = [100, 80, 60, 40, 20, 0, -20, -40, -60];
var labelYears = [1971, 1973, 1975, 1977, 1979, 1981, 1983, 1985, 1987, 1989, 1991, 1993, 1995, 1997,
                  1999, 2001, 2003, 2005, 2007, 2009, 2011, 2013, 2015, 2017, 2019, 2021, 2023, 2025];
var minorYears = [1972, 1974, 1976, 1978, 1980, 1982, 1984, 1986, 1988, 1990, 1992, 1994, 1996, 1998,
                  2000, 2002, 2004, 2006, 2008, 2010, 2012, 2014, 2016, 2018, 2020, 2022, 2024, 2026];

var legendNames = [
  'Chicago Fed National Financial Conditions Index, Index, Weekly, Not Seasonally Adjusted',
  'Chicago Fed Adjusted National Financial Conditions Index, Index, Weekly, Not Seasonally Adjusted',
  'S&P500 52週変化率 (%)',
  'S&P500 26週変化率 (%)'
];

function toDate(y) {
  var yr = Math.floor(y);
  var a = new Date(yr, 0, 1), b = new Date(yr + 1, 0, 1);
  return new Date(+a + (y - yr) * (b - a));
}

var svg = d3.select('#chart');
var plotLeft = 97, plotRight = 1640, plotTop = 68.5, plotBottom = 934.5;
var gridColor = '#898989';

var x = d3.scaleTime().domain([new Date(1971, 0, 1), new Date(2027, 0, 1)]).range([plotLeft, plotRight]);
var yL = d3.scaleLinear().domain([-2, 6]).range([plotTop, plotBottom]);
var yR = d3.scaleLinear().domain([100, -60]).range([plotTop, plotBottom]);

svg.append('rect').attr('width', 1706).attr('height', 1113).attr('fill', '#fff');

// gridlines (stick out a little on both sides)
svg.append('g').attr('transform', 'translate(' + (plotLeft - 9) + ',0)')
  .call(d3.axisRight(yL).tickValues(leftTicks).tickSize(plotRight - plotLeft + 18).tickFormat(''))
  .call(function (g) { g.select('.domain').remove(); })
  .selectAll('line').attr('stroke', gridColor).attr('stroke-width', 2);

// left axis
var gl = svg.append('g').attr('transform', 'translate(' + plotLeft + ',0)')
  .call(d3.axisLeft(yL).tickValues(leftTicks).tickSize(0).tickSizeOuter(0).tickPadding(37)
    .tickFormat(function (d) { return d.toFixed(1); }));
gl.attr('font-family', null).attr('font-size', null);
gl.select('.domain').attr('stroke', gridColor).attr('stroke-width', 2);
gl.selectAll('text').attr('font-size', 27).attr('font-weight', 'bold')
  .attr('fill', function (d) { return d < 0 ? '#FF0000' : '#000'; });

// right axis
var gr = svg.append('g').attr('transform', 'translate(' + plotRight + ',0)')
  .call(d3.axisRight(yR).tickValues(rightTicks).tickSize(0).tickSizeOuter(0).tickPadding(42)
    .tickFormat(function (d) { return String(d); }));
gr.attr('font-family', null).attr('font-size', null);
gr.select('.domain').attr('stroke', gridColor).attr('stroke-width', 2);
gr.selectAll('text').attr('font-size', 27).attr('fill', '#000').attr('text-anchor', 'middle');

// x axis tick marks on the zero line
var yZero = yL(0);
svg.append('g').attr('transform', 'translate(0,' + (yZero - 8) + ')')
  .call(d3.axisBottom(x).tickValues(labelYears.map(function (d) { return new Date(d, 0, 1); }))
    .tickSize(16).tickFormat(''))
  .call(function (g) { g.select('.domain').remove(); })
  .selectAll('line').attr('stroke', gridColor).attr('stroke-width', 2);
svg.append('g').attr('transform', 'translate(0,' + yZero + ')')
  .call(d3.axisTop(x).tickValues(minorYears.map(function (d) { return new Date(d, 0, 1); }))
    .tickSize(7).tickFormat(''))
  .call(function (g) { g.select('.domain').remove(); })
  .selectAll('line').attr('stroke', gridColor).attr('stroke-width', 2);

// x labels, rotated
var gx = svg.append('g').attr('transform', 'translate(0,955)')
  .call(d3.axisBottom(x).tickValues(labelYears.map(function (d) { return new Date(d, 0, 1); }))
    .tickSize(0).tickFormat(function (d) { return d.getFullYear() + '年1月1日'; }));
gx.attr('font-family', null).attr('font-size', null);
gx.select('.domain').remove();
gx.selectAll('text')
  .attr('x', 0).attr('y', 0).attr('dy', '0.35em')
  .attr('transform', 'rotate(-90)')
  .attr('text-anchor', 'end')
  .attr('font-size', 24).attr('fill', '#000');

// series
function lineOn(scale) {
  return d3.line()
    .x(function (d) { return x(toDate(d[0])); })
    .y(function (d) { return scale(d[1]); });
}
var series = [
  { data: sp52, scale: yR, color: '#8064A2', width: 6 },
  { data: sp26, scale: yR, color: '#9BBB59', width: 6 },
  { data: nfci, scale: yL, color: '#4F81BD', width: 6.5 },
  { data: anfci, scale: yL, color: '#C00000', width: 3.5 }
];
series.forEach(function (s) {
  svg.append('path').datum(s.data)
    .attr('d', lineOn(s.scale))
    .attr('fill', 'none')
    .attr('stroke', s.color)
    .attr('stroke-width', s.width)
    .attr('stroke-linejoin', 'round')
    .attr('stroke-linecap', 'round');
});

// legend
var legendStyle = [
  { color: '#4F81BD', width: 6.5 },
  { color: '#C00000', width: 3.5 },
  { color: '#8064A2', width: 6 },
  { color: '#9BBB59', width: 6 }
];
var legend = svg.append('g');
legendNames.forEach(function (name, i) {
  var ly = 753 + i * 48.5;
  legend.append('line').attr('x1', 99).attr('x2', 151).attr('y1', ly).attr('y2', ly)
    .attr('stroke', legendStyle[i].color).attr('stroke-width', legendStyle[i].width);
  legend.append('text').attr('x', 155).attr('y', ly).attr('dy', '0.35em')
    .attr('font-size', 25.6).attr('fill', '#000').text(name);
});

// title
svg.append('text').attr('x', 847).attr('y', 42).attr('text-anchor', 'middle')
  .attr('font-size', 41.5).attr('font-weight', 'bold').attr('fill', '#000')
  .text('FInancial Conditon Indexと米株価');
svg.append('text').attr('x', 1665).attr('y', 31).attr('text-anchor', 'middle')
  .attr('font-size', 26).attr('font-weight', 'bold').text('%');

// annotations
svg.append('text').attr('x', 518).attr('y', 129).attr('font-size', 29).attr('font-weight', 'bold')
  .attr('fill', '#215968').text('金融状況インデックスによる引締・緩和状態');
svg.append('text').attr('x', 1383).attr('y', 140).attr('font-size', 28).attr('font-weight', 'bold')
  .attr('fill', '#215968').text('金融状況イン');

var purpleNote = svg.append('text').attr('font-size', 27).attr('font-weight', 'bold').attr('fill', '#7030A0');
[['S&P500の52週前', 712], ['比の上昇率（右', 748], ['軸）', 782]].forEach(function (t) {
  purpleNote.append('tspan').attr('x', 1286).attr('y', t[1]).text(t[0]);
});
svg.append('text').attr('x', 1286).attr('y', 817).attr('font-size', 27).attr('font-weight', 'bold')
  .attr('fill', '#00B050').text('S&P500の26週前');

svg.append('text').attr('x', 1160).attr('y', 1105).attr('font-size', 31).attr('fill', '#000')
  .text('（資料：Federal Reserve Bank of');

// arrows
var arrowColor = '#F79646';
var upX = x(toDate(2010.38)), dnX = x(toDate(2007.84));
var upPts = [
  [upX, yL(-1.91)], [upX + 64, yL(-1.34)], [upX + 32, yL(-1.34)], [upX + 32, yL(-0.07)],
  [upX - 32, yL(-0.07)], [upX - 32, yL(-1.34)], [upX - 64, yL(-1.34)]
];
var dnPts = [
  [dnX - 31, yL(0.12)], [dnX + 31, yL(0.12)], [dnX + 31, yL(1.35)], [dnX + 65, yL(1.35)],
  [dnX, yL(1.91)], [dnX - 64, yL(1.35)], [dnX - 31, yL(1.35)]
];
[upPts, dnPts].forEach(function (p) {
  svg.append('path').attr('d', 'M' + p.map(function (q) { return q.join(','); }).join('L') + 'Z')
    .attr('fill', 'none').attr('stroke', arrowColor).attr('stroke-width', 4.5)
    .attr('stroke-linejoin', 'miter');
});
'緩和状態'.split('').forEach(function (c, i) {
  svg.append('text').attr('x', upX + 3).attr('y', 141 + i * 34).attr('dy', '0.35em')
    .attr('text-anchor', 'middle').attr('font-size', 27).attr('fill', '#000').text(c);
});
'引締状態'.split('').forEach(function (c, i) {
  svg.append('text').attr('x', dnX + 4).attr('y', 329 + i * 35).attr('dy', '0.35em')
    .attr('text-anchor', 'middle').attr('font-size', 27).attr('fill', '#000').text(c);
});
</script>
</body>
</html>
